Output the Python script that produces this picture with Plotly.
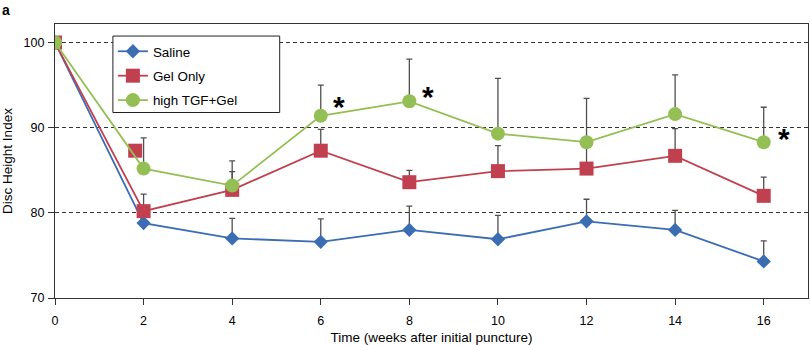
import plotly.graph_objects as go

# Time points (weeks after initial puncture)
weeks = [0, 2, 4, 6, 8, 10, 12, 14, 16]

# Disc height index (mean) and upper SD per group
saline = [100, 78.8, 77.0, 76.6, 78.0, 76.9, 79.0, 78.0, 74.3]
saline_sd = [0, 1.8, 2.35, 2.7, 2.8, 2.8, 2.6, 2.3, 2.4]

gel_only = [100, 80.2, 82.7, 87.3, 83.6, 84.9, 85.2, 86.7, 82.0]
gel_only_sd = [0, 2.0, 2.15, 2.5, 1.4, 3.0, 2.8, 3.2, 2.2]

tgf_gel = [100, 85.2, 83.2, 91.4, 93.1, 89.3, 88.3, 91.6, 88.3]
tgf_gel_sd = [0, 3.6, 2.9, 3.6, 4.95, 6.5, 5.15, 4.6, 4.1]

# Extra Gel Only marker sitting just left of week 2
gel_extra_x = [1.81]
gel_extra_y = [87.3]

# Significance markers
star_x = [6.41, 8.42, 16.45]
star_y = [93.2, 94.4, 89.5]

y_ticks = [70, 80, 90, 100]
x_ticks = [0, 2, 4, 6, 8, 10, 12, 14, 16]

BLUE = "#3b6db2"
RED = "#c0404f"
GREEN = "#94bf55"
ERR = "#505050"
FONT = "Liberation Sans, Arial, sans-serif"


def err(values):
    return dict(type="data", array=values, arrayminus=[0] * len(values),
                symmetric=False, color=ERR, thickness=1.3, width=3)


fig = go.Figure()

fig.add_trace(go.Scatter(
    x=weeks, y=saline, name="Saline", mode="lines+markers",
    line=dict(color=BLUE, width=1.8),
    marker=dict(symbol="diamond", size=11, color=BLUE),
    error_y=err(saline_sd), legendgroup="a",
))
fig.add_trace(go.Scatter(
    x=weeks, y=gel_only, name="Gel Only", mode="lines+markers",
    line=dict(color=RED, width=1.8),
    marker=dict(symbol="square", size=14, color=RED),
    error_y=err(gel_only_sd), legendgroup="b",
))
fig.add_trace(go.Scatter(
    x=gel_extra_x, y=gel_extra_y, mode="markers", showlegend=False,
    marker=dict(symbol="square", size=14, color=RED), hoverinfo="skip",
))
fig.add_trace(go.Scatter(
    x=weeks, y=tgf_gel, name="high TGF+Gel", mode="lines+markers",
    line=dict(color=GREEN, width=1.8),
    marker=dict(symbol="circle", size=14, color=GREEN),
    error_y=err(tgf_gel_sd), legendgroup="c",
))

for sx, sy in zip(star_x, star_y):
    fig.add_annotation(x=sx, y=sy, text="<b>*</b>", showarrow=False,
                       font=dict(size=30, color="black", family=FONT),
                       xanchor="center", yanchor="middle", yshift=-6.5)

fig.add_annotation(x=0, y=1, xref="paper", yref="paper", text="<b>a</b>",
                   showarrow=False, xanchor="left", yanchor="top",
                   font=dict(size=14, color="black", family=FONT),
                   xshift=-55, yshift=24)

# Legend frame (white box with dark border)
fig.add_shape(type="rect", xref="paper", yref="paper",
              x0=0.0769, x1=0.2984, y0=0.677, y1=0.956,
              line=dict(color="#222", width=1), fillcolor="white",
              layer="above")

fig.update_layout(
    width=810, height=345,
    margin=dict(l=55, r=1, t=24, b=45),
    paper_bgcolor="white", plot_bgcolor="white",
    font=dict(family=FONT, size=12.5, color="black"),
    showlegend=True,
    legend=dict(
        x=0.0769, y=0.956, xanchor="left", yanchor="top",
        borderwidth=0, bgcolor="rgba(0,0,0,0)",
        font=dict(size=13.4, family=FONT),
        traceorder="grouped", tracegroupgap=4,
        itemwidth=30,
    ),
    xaxis=dict(
        range=[0, 17], tickvals=x_ticks, ticks="outside", ticklen=6,
        tickcolor="#333", showline=True, linecolor="#333", linewidth=1.3,
        mirror=True, showgrid=False, zeroline=False, ticklabelstandoff=5,
        title=dict(text="Time (weeks after initial puncture)",
                   font=dict(size=13.5, family=FONT), standoff=6),
    ),
    yaxis=dict(
        range=[70, 102.18], tickvals=y_ticks, ticks="outside", ticklen=6,
        tickcolor="#333", showline=True, linecolor="#333", linewidth=1.3,
        mirror=True, showgrid=True, gridcolor="#333", griddash="4px,3px",
        gridwidth=1, zeroline=False, ticklabelstandoff=1,
        title=dict(text="Disc Height Index",
                   font=dict(size=13.5, family=FONT), standoff=8),
    ),
)

fig.write_html("out.html")
